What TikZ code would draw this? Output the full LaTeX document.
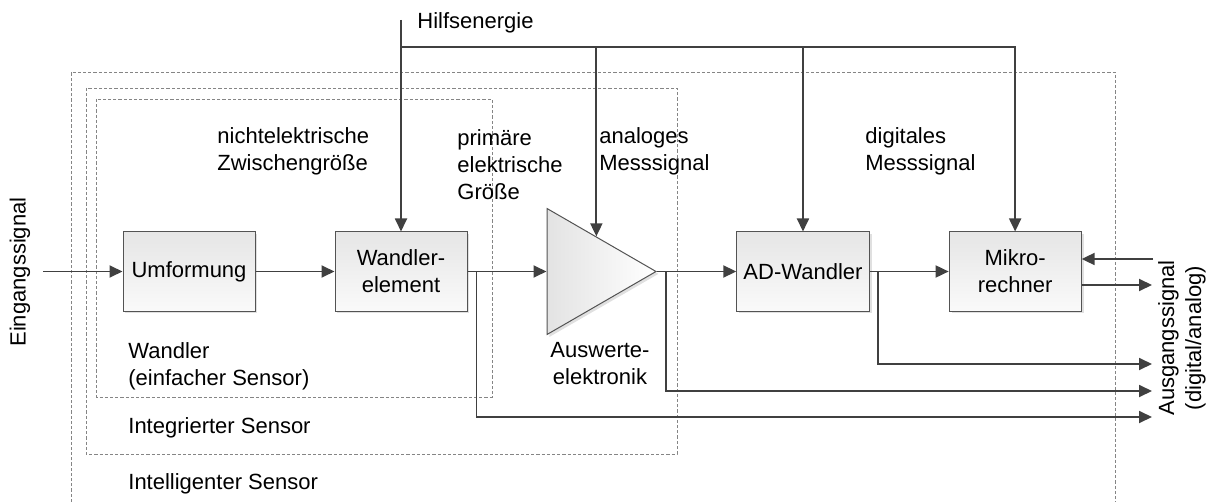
\documentclass[tikz,border=0pt]{standalone}
\usepackage{fontspec}
\setmainfont{Liberation Sans}
\usetikzlibrary{arrows.meta,positioning,shapes.geometric,shadows,calc}
\definecolor{wire}{HTML}{404040}
\definecolor{framegray}{HTML}{858585}
\tikzset{
  blk/.style={draw=wire!90, line width=0.5pt, minimum width=66pt, minimum height=39.5pt,
    align=center, top color=black!10, bottom color=black!2,
    drop shadow={shadow xshift=1.2pt, shadow yshift=-1.2pt, fill=black!30, opacity=0.4}},
  amp/.style={isosceles triangle, isosceles triangle stretches, draw=wire!90, line width=0.5pt,
    minimum width=63pt, minimum height=54.5pt, inner sep=0pt, left color=black!11, right color=white,
    drop shadow={shadow xshift=1.2pt, shadow yshift=-1.2pt, fill=black!30, opacity=0.4}},
  lbl/.style={align=left, inner sep=0pt},
  frame/.style={draw=framegray, line width=0.4pt, dash pattern=on 1.6pt off 1pt},
  flow/.style={-{Triangle[length=6.5pt,width=6pt]}, line width=0.9pt, draw=wire},
}

\begin{document}
\begin{tikzpicture}[x=0.5pt, y=-0.5pt, node distance=39.5pt, font=\fontsize{11}{13.5}\selectfont]
    \useasboundingbox (0,0) rectangle (1215,502);
    \draw[frame] (71,502) |- (1115,72) -- (1115,502);
    \draw[frame] (86,88) rectangle (677,454);
    \draw[frame] (96,99) rectangle (492,397);
    \node[blk] (umf) at (189,271.5) {Umformung};
    \node[blk, right=of umf] (wdl) {Wandler-\\element};
    \node[amp, right=of wdl] (aus) {};
    \node[blk, right=of aus] (adw) {AD-Wandler};
    \node[blk, right=of adw] (mik) {Mikro-\\rechner};
    \node[lbl, rotate=90] (ein) at (20,272) {Eingangssignal};
    \node[lbl, align=center, rotate=90] (ausg) at (1182,338) {Ausgangssignal\\(digital/analog)};
    \node[lbl, anchor=west] (hlf) at (417,23) {Hilfsenergie};
    \node[lbl, anchor=west] (zwg) at (217,151.5) {nichtelektrische\\Zwischengröße};
    \node[lbl, anchor=west] (pri) at (457,165) {primäre\\elektrische\\Größe};
    \node[lbl, anchor=west] (ams) at (599,151.5) {analoges\\Messsignal};
    \node[lbl, anchor=west] (dms) at (865,151.5) {digitales\\Messsignal};
    \node[lbl, align=center] (awe) at (600,363.5) {Auswerte-\\elektronik};
    \node[lbl, anchor=west] (wlr) at (128,366) {Wandler\\(einfacher Sensor)};
    \node[lbl, anchor=west] (isn) at (128,428) {Integrierter Sensor};
    \node[lbl, anchor=west] (ksn) at (128,484) {Intelligenter Sensor};
    \coordinate (in) at (umf -| 43,0);
    \coordinate (hs) at (wdl |- 0,20);
    \coordinate (bus) at (wdl |- 0,47);
    \coordinate (hv) at ($(aus.left corner)!0.45!(aus.apex)$);
    \coordinate (i0) at (1153,259);
    \coordinate (o0) at (1152,285);
    \coordinate (o1) at (1152,364);
    \coordinate (o2) at (1152,391);
    \coordinate (o3) at (1152,417);
    \draw[flow] (in) -- (umf); \draw[flow] (umf) -- (wdl); \draw[flow] (wdl) -- (aus);
    \draw[flow] (aus.apex) -- (adw); \draw[flow] (adw) -- (mik);
    \draw[flow] (hs) -- (wdl);
    \draw[flow] (bus) -| (hv); \draw[flow] (bus) -| (adw); \draw[flow] (bus) -| (mik);
    \draw[flow] (i0) -- (mik.east |- i0);
    \draw[flow] (mik.east |- o0) -- (o0);
    \draw[flow] ([xshift=4pt]adw.east) |- (o1);
    \draw[flow] ([xshift=4.5pt]aus.apex) |- (o2);
    \draw[flow] ([xshift=4.5pt]wdl.east) |- (o3);
  \end{tikzpicture}
\end{document}
